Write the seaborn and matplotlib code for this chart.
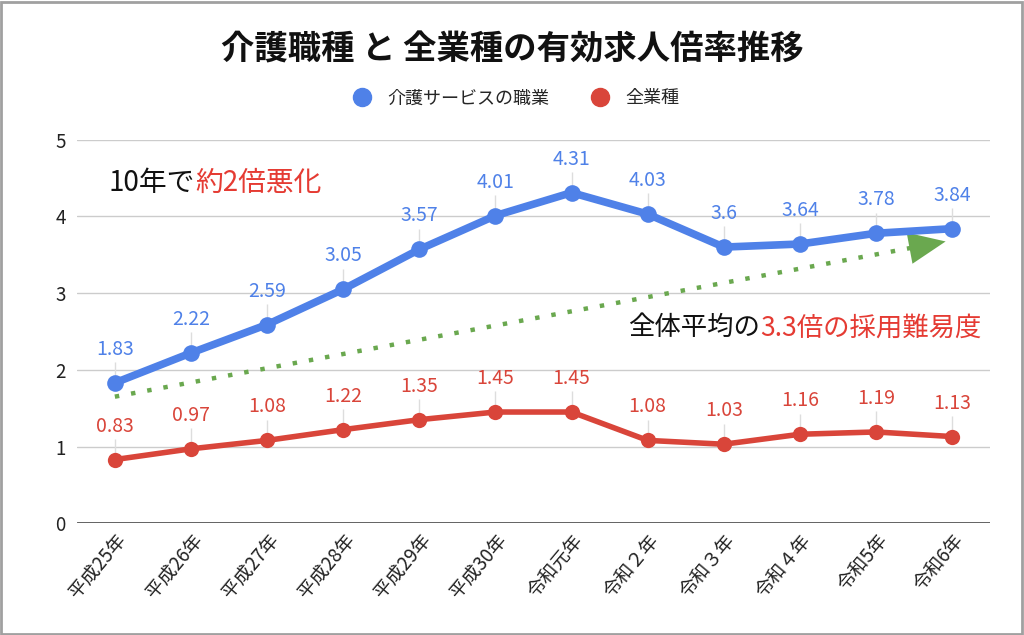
import matplotlib
matplotlib.use("Agg")
import matplotlib.pyplot as plt
import seaborn as sns
import pandas as pd
from matplotlib.offsetbox import TextArea, HPacker, AnnotationBbox
from matplotlib.patches import Rectangle
from matplotlib.lines import Line2D

years = ["平成25年", "平成26年", "平成27年", "平成28年", "平成29年", "平成30年",
         "令和元年", "令和２年", "令和３年", "令和４年", "令和5年", "令和6年"]
care = [1.83, 2.22, 2.59, 3.05, 3.57, 4.01, 4.31, 4.03, 3.6, 3.64, 3.78, 3.84]
allj = [0.83, 0.97, 1.08, 1.22, 1.35, 1.45, 1.45, 1.08, 1.03, 1.16, 1.19, 1.13]
care_lbl = ["1.83", "2.22", "2.59", "3.05", "3.57", "4.01", "4.31", "4.03", "3.6", "3.64", "3.78", "3.84"]
all_lbl = ["0.83", "0.97", "1.08", "1.22", "1.35", "1.45", "1.45", "1.08", "1.03", "1.16", "1.19", "1.13"]
series_names = ["介護サービスの職業", "全業種"]
title = "介護職種 と 全業種の有効求人倍率推移"
trend_start = (0, 1.65)
trend_end = (10.95, 3.68)

BLUE = "#4f81e8"
RED = "#d9453a"
GREEN = "#6aa84f"
TXT_RED = "#e53b33"

sns.set_theme(style="white")
plt.rcParams['font.family'] = ['Noto Sans CJK JP', 'DejaVu Sans']

df = pd.DataFrame({"year": years * 2,
                   "value": care + allj,
                   "series": [series_names[0]] * len(years) + [series_names[1]] * len(years)})

fig = plt.figure(figsize=(10.24, 6.35), dpi=100)
ax = fig.add_axes([0.075, 0.176, 0.892, 0.604])

d1 = df[df.series == series_names[0]]
d2 = df[df.series == series_names[1]]
sns.lineplot(data=d1, x="year", y="value", color=BLUE, lw=5.5, marker="o", markersize=12,
             markeredgewidth=0, sort=False, ax=ax, zorder=4)
sns.lineplot(data=d2, x="year", y="value", color=RED, lw=4, marker="o", markersize=11,
             markeredgewidth=0, sort=False, ax=ax, zorder=4)

ax.set_xlim(-0.5, len(years) - 0.5)
ax.set_ylim(0, 5)
ax.set_yticks([0, 1, 2, 3, 4, 5])
ax.yaxis.grid(True, color="#cccccc", lw=1)
ax.axhline(0, color="#555555", lw=2, zorder=3)
for s in ax.spines.values():
    s.set_visible(False)
ax.set_xlabel("")
ax.set_ylabel("")
ax.tick_params(axis="y", labelsize=13.5, colors="#222222", pad=8, length=0)
ax.tick_params(axis="x", labelsize=13.5, colors="#222222", length=0, pad=5)
for t in ax.get_xticklabels():
    t.set_rotation(50)
    t.set_ha("right")
    t.set_rotation_mode("anchor")

# data labels with leader lines
for i, (v, l) in enumerate(zip(care, care_lbl)):
    ax.vlines(i, v + 0.05, v + 0.27, color="#dddddd", lw=1, zorder=1)
    ax.text(i, v + 0.3, l, ha="center", va="bottom", color=BLUE, fontsize=14, zorder=5)
for i, (v, l) in enumerate(zip(allj, all_lbl)):
    ax.vlines(i, v + 0.05, v + 0.27, color="#dddddd", lw=1, zorder=1)
    ax.text(i, v + 0.3, l, ha="center", va="bottom", color=RED, fontsize=14, zorder=5)

# trend arrow
ax.plot([trend_start[0], trend_end[0] - 0.38], [trend_start[1], trend_end[1] - 0.07],
        ls=(0, (1, 2.7)), lw=3.2, color=GREEN, zorder=2)
ax.annotate("", xy=trend_end, xytext=(trend_end[0] - 0.45, trend_end[1] - 0.083),
            arrowprops=dict(arrowstyle="-|>,head_length=2.2,head_width=0.95", color=GREEN, lw=0),
            zorder=2)

def mixed(parts, xy, size):
    boxes = [TextArea(t, textprops=dict(color=c, fontsize=size)) for t, c in parts]
    pack = HPacker(children=boxes, align="baseline", pad=0, sep=0)
    ab = AnnotationBbox(pack, xy, xycoords="data", box_alignment=(0, 0.5), frameon=False, pad=0)
    ax.add_artist(ab)

mixed([("10年で", "#111111"), ("約2倍悪化", TXT_RED)], (-0.08, 4.44), 20)
mixed([("全体平均の", "#111111"), ("3.3倍の採用難易度", TXT_RED)], (6.74, 2.55), 19)

fig.suptitle(title, y=0.947, fontsize=24, fontweight="bold", color="#111111")

handles = [Line2D([], [], ls="none", marker="o", markersize=13, color=BLUE),
           Line2D([], [], ls="none", marker="o", markersize=13, color=RED)]
fig.legend(handles, series_names, loc="center", bbox_to_anchor=(0.5, 0.845), ncol=2,
           frameon=False, fontsize=13, handletextpad=0.4, columnspacing=1.8)

fig.add_artist(Rectangle((0.001, 0.002), 0.997, 0.995, transform=fig.transFigure,
                         fill=False, ec="#a0a0a0", lw=2))

fig.savefig("out.png", dpi=100, facecolor="white")
